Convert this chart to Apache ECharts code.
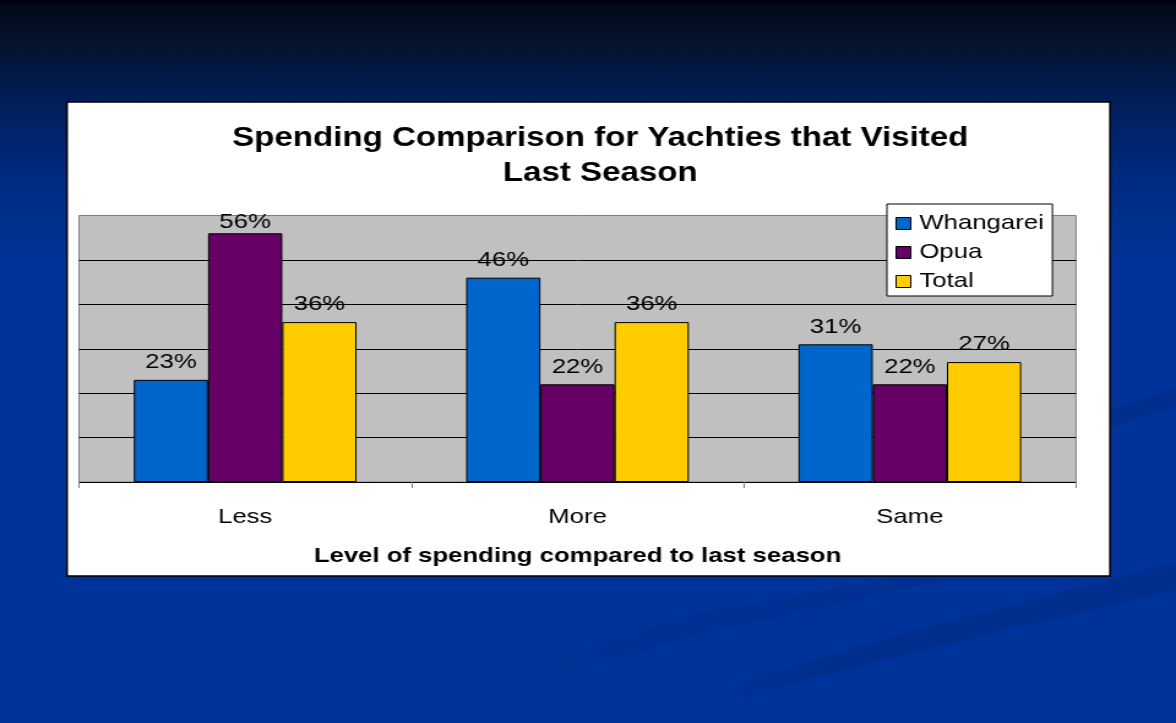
<!DOCTYPE html>
<html>
<head>
<meta charset="utf-8">
<script src="https://cdn.jsdelivr.net/npm/echarts@6/dist/echarts.min.js"></script>
<style>
  html, body { margin: 0; padding: 0; width: 1176px; height: 723px; overflow: hidden; background: #003399; }
  /* the slide is laid out at 4:3 (960 wide) and shown stretched to the wide frame */
  #chart { width: 960px; height: 723px; transform: scaleX(1.225); transform-origin: 0 0; }
</style>
</head>
<body>
<div id="chart"></div>
<script>
// Share of respondents (%) by level of spending compared to last season
const categories = ['Less', 'More', 'Same'];
const seriesNames = ['Whangarei', 'Opua', 'Total'];
const whangarei = [23, 46, 31];
const opua = [56, 22, 22];
const total = [36, 36, 27];
const yTicks = [0, 10, 20, 30, 40, 50, 60];

const FONT = '"Liberation Sans", Arial, sans-serif';
const STRETCH = 1.225;
const sx = v => v / STRETCH; // frame x -> slide x

const colors = ['#0066CC', '#660066', '#FFCC00'];

function barSeries(name, values, color, labelTweaks) {
  return {
    name: name,
    type: 'bar',
    barGap: '0%',
    barCategoryGap: '33%',
    itemStyle: { color: color, borderColor: '#000', borderWidth: 1 },
    label: {
      show: true,
      position: 'top',
      distance: 7,
      formatter: '{c}%',
      fontFamily: FONT,
      fontSize: 21,
      color: '#000'
    },
    data: values.map((v, i) => (labelTweaks && labelTweaks[i]) ? { value: v, label: labelTweaks[i] } : v)
  };
}

// decorative swooshes of the slide background, fading out to the left
function band(points, alpha) {
  return {
    type: 'polygon',
    z: -20,
    shape: { points: points.map(p => [sx(p[0]), p[1]]) },
    style: {
      fill: {
        type: 'linear', x: 0, y: 0, x2: 1, y2: 0,
        colorStops: [
          { offset: 0, color: 'rgba(0, 20, 80, 0)' },
          { offset: 0.35, color: 'rgba(0, 20, 80, ' + alpha + ')' },
          { offset: 1, color: 'rgba(0, 20, 80, ' + alpha + ')' }
        ]
      }
    }
  };
}

const chart = echarts.init(document.getElementById('chart'), null, { renderer: 'canvas' });
chart.setOption({
  animation: false,
  backgroundColor: {
    type: 'linear', x: 0, y: 0, x2: 0, y2: 1,
    colorStops: [
      { offset: 0, color: '#00000f' },
      { offset: 0.01, color: '#030a1c' },
      { offset: 0.06, color: '#05132c' },
      { offset: 0.14, color: '#001e5a' },
      { offset: 0.25, color: '#002b82' },
      { offset: 0.36, color: '#003399' },
      { offset: 1, color: '#003399' }
    ]
  },
  graphic: [
    band([[900, 474], [1176, 388], [1176, 406], [900, 494]], 0.14),
    band([[480, 676], [700, 614], [940, 568], [940, 581], [700, 633], [480, 696]], 0.1),
    band([[640, 712], [900, 634], [1176, 562], [1176, 590], [900, 656], [640, 723]], 0.14),
    {
      type: 'rect',
      z: -10,
      shape: { x: sx(67), y: 102, width: sx(1110) - sx(67), height: 474 },
      style: { fill: '#ffffff', stroke: '#000000', lineWidth: 1.5 }
    }
  ],
  title: {
    text: 'Spending Comparison for Yachties that Visited\nLast Season',
    left: 490,
    top: 121,
    textAlign: 'center',
    padding: 0,
    textStyle: { fontFamily: FONT, fontSize: 27, fontWeight: 'bold', lineHeight: 35, color: '#000' }
  },
  legend: {
    data: seriesNames,
    orient: 'vertical',
    left: 724,
    top: 204,
    padding: [9, 7, 4, 7],
    itemGap: 8,
    itemWidth: 12,
    itemHeight: 12,
    icon: 'rect',
    backgroundColor: '#ffffff',
    borderColor: '#000000',
    borderWidth: 1,
    itemStyle: { borderColor: '#000', borderWidth: 1 },
    textStyle: { fontFamily: FONT, fontSize: 21, color: '#000', padding: [0, 0, 0, 2] }
  },
  grid: {
    show: true,
    left: sx(79),
    right: 960 - sx(1076),
    top: 215.5,
    bottom: 723 - 482,
    backgroundColor: '#C0C0C0',
    borderColor: '#808080',
    borderWidth: 1
  },
  xAxis: {
    type: 'category',
    data: categories,
    axisLine: { lineStyle: { color: '#000', width: 1 } },
    axisTick: { show: true, length: 6, lineStyle: { color: '#808080' } },
    axisLabel: { fontFamily: FONT, fontSize: 21, color: '#000', margin: 25 },
    name: 'Level of spending compared to last season',
    nameLocation: 'middle',
    nameGap: 64,
    nameTextStyle: { fontFamily: FONT, fontSize: 21, fontWeight: 'bold', color: '#000' }
  },
  yAxis: {
    type: 'value',
    min: yTicks[0],
    max: yTicks[yTicks.length - 1],
    interval: yTicks[1] - yTicks[0],
    axisLine: { show: false },
    axisTick: { show: false },
    axisLabel: { show: false },
    splitLine: { show: true, showMinLine: false, showMaxLine: false, lineStyle: { color: '#000', width: 1 } }
  },
  series: [
    barSeries(seriesNames[0], whangarei, colors[0]),
    barSeries(seriesNames[1], opua, colors[1], [{ distance: 1 }]),
    barSeries(seriesNames[2], total, colors[2])
  ]
});
</script>
</body>
</html>
